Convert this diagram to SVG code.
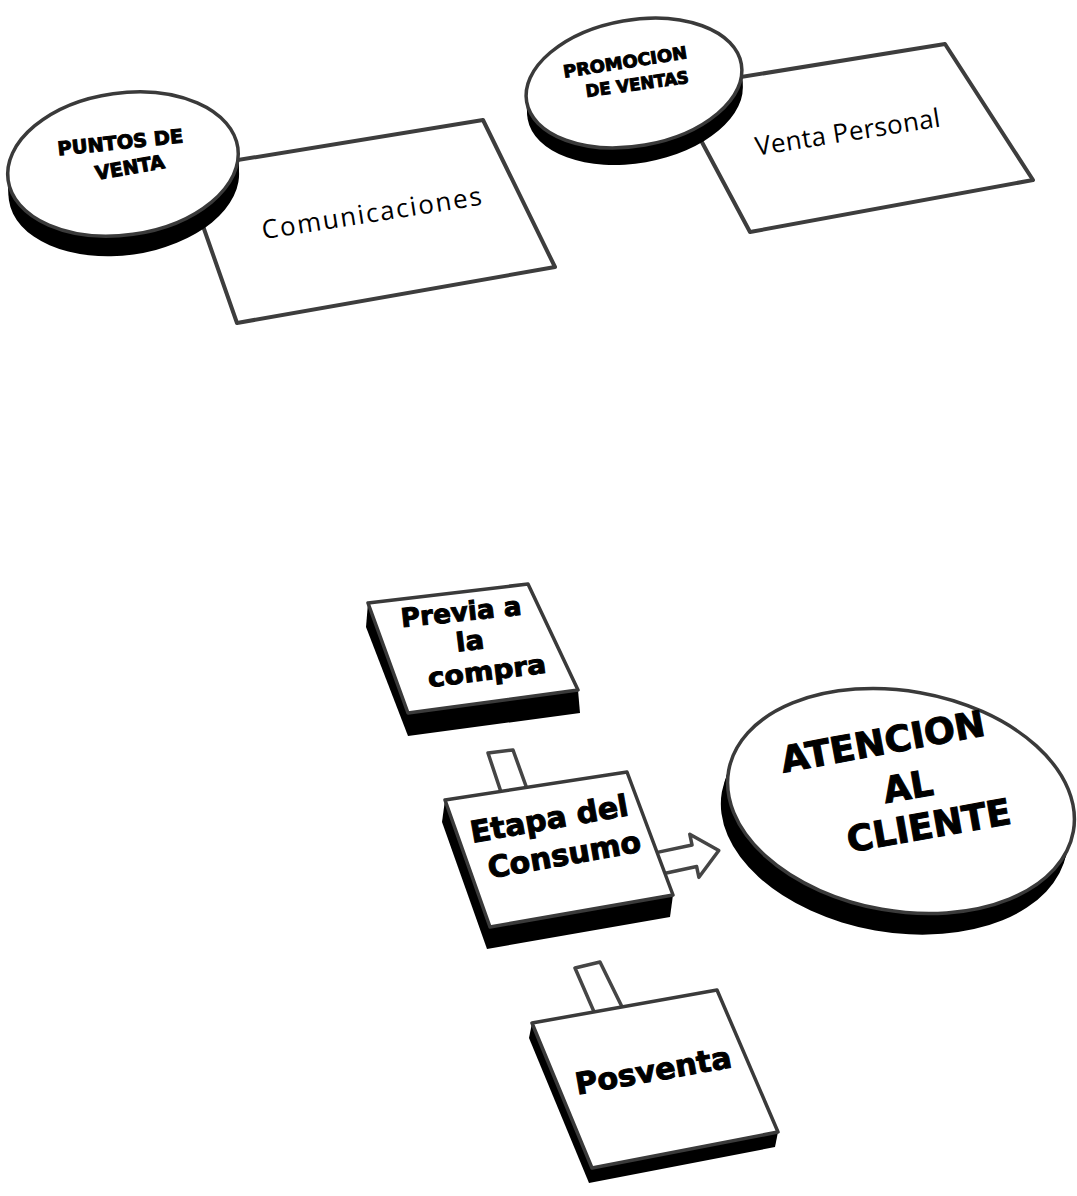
<svg xmlns="http://www.w3.org/2000/svg" width="1077" height="1196" viewBox="0 0 1077 1196">
  <defs>
    <style>
      .card { fill: #ffffff; stroke: #3d3d3d; stroke-width: 4; stroke-linejoin: round; }
      .face { fill: #ffffff; stroke: #3a3a3a; stroke-width: 3.5; stroke-linejoin: round; }
      .side { fill: #000000; }
      .stem { fill: #ffffff; stroke: #454545; stroke-width: 3.5; stroke-linejoin: round; }
      .plain { font-family: "Open Sans", "Liberation Sans", sans-serif; font-size: 26px; fill: #000; text-anchor: middle; }
      .heavy { font-family: "DejaVu Sans", "Liberation Sans", sans-serif; font-weight: bold; fill: #000; stroke: #000; stroke-width: 1; text-anchor: middle; }
    </style>
  </defs>
  <rect width="1077" height="1196" fill="#ffffff"/>

  <!-- connectors: stems between the stage boxes and the block arrow -->
  <g id="connectors">
    <polygon class="stem" points="488,753 513,750 531,800 505,804"/>
    <polygon class="stem" points="575,968 600,962 626,1015 598,1021"/>
    <g transform="translate(665,862) rotate(-12)">
      <polygon class="stem" points="-8,-11 30,-11 30,-22 55,0 30,22 30,11 -8,11"/>
    </g>
  </g>

  <!-- Comunicaciones card -->
  <g id="comunicaciones">
    <polygon class="card" points="183,169 483,120 555,267 237,323"/>
    <text class="plain" transform="translate(373,222) rotate(-9)" textLength="222" lengthAdjust="spacing">Comunicaciones</text>
  </g>

  <!-- Puntos de venta disc -->
  <g id="puntos-de-venta">
    <g transform="translate(123,164) rotate(-8)">
      <ellipse class="side" cx="-2" cy="20" rx="116" ry="71"/>
      <ellipse class="side" cx="-1.5" cy="15" rx="116" ry="71"/>
      <ellipse class="side" cx="-1" cy="10" rx="116" ry="71"/>
      <ellipse class="side" cx="-0.5" cy="5" rx="116" ry="71"/>
      <ellipse class="face" cx="0" cy="0" rx="116" ry="71"/>
    </g>
    <text class="heavy" font-size="19" transform="translate(121,149) rotate(-6)" textLength="126" lengthAdjust="spacingAndGlyphs">PUNTOS DE</text>
    <text class="heavy" font-size="19" transform="translate(131,174) rotate(-10)" textLength="70" lengthAdjust="spacingAndGlyphs">VENTA</text>
  </g>

  <!-- Venta Personal card -->
  <g id="venta-personal">
    <polygon class="card" points="673,88 945,44 1033,180 750,232"/>
    <text class="plain" transform="translate(849,141) rotate(-9)" textLength="187" lengthAdjust="spacing">Venta Personal</text>
  </g>

  <!-- Promocion de ventas disc -->
  <g id="promocion-de-ventas">
    <g transform="translate(634,83) rotate(-10)">
      <ellipse class="side" cx="-2" cy="17" rx="109" ry="63"/>
      <ellipse class="side" cx="-1.5" cy="12.75" rx="109" ry="63"/>
      <ellipse class="side" cx="-1" cy="8.5" rx="109" ry="63"/>
      <ellipse class="side" cx="-0.5" cy="4.25" rx="109" ry="63"/>
      <ellipse class="face" cx="0" cy="0" rx="109" ry="63"/>
    </g>
    <text class="heavy" font-size="17" transform="translate(626,68) rotate(-9)" textLength="125" lengthAdjust="spacingAndGlyphs">PROMOCION</text>
    <text class="heavy" font-size="17" transform="translate(638,90) rotate(-8)" textLength="104" lengthAdjust="spacingAndGlyphs">DE VENTAS</text>
  </g>

  <!-- Previa a la compra -->
  <g id="previa-compra">
    <polygon class="side" points="368,603 528,584 578,690 580,713 408,736 366,627"/>
    <polygon class="face" points="368,603 528,584 578,690 408,713"/>
    <text class="heavy" font-size="26" transform="translate(462,621) rotate(-6)" textLength="121" lengthAdjust="spacingAndGlyphs">Previa a</text>
    <text class="heavy" font-size="26" transform="translate(471,650) rotate(-7)" textLength="28" lengthAdjust="spacingAndGlyphs">la</text>
    <text class="heavy" font-size="26" transform="translate(488,680) rotate(-7)" textLength="119" lengthAdjust="spacingAndGlyphs">compra</text>
  </g>

  <!-- Etapa del consumo -->
  <g id="etapa-consumo">
    <polygon class="side" points="445,800 627,772 673,895 670,917 487,949 442,822"/>
    <polygon class="face" points="445,800 627,772 673,895 490,927"/>
    <text class="heavy" font-size="30" transform="translate(551,829) rotate(-10)" textLength="160" lengthAdjust="spacingAndGlyphs">Etapa del</text>
    <text class="heavy" font-size="30" transform="translate(566,865) rotate(-10)" textLength="155" lengthAdjust="spacingAndGlyphs">Consumo</text>
  </g>

  <!-- Atencion al cliente disc -->
  <g id="atencion-cliente">
    <g transform="translate(901,801) rotate(10)">
      <ellipse class="side" cx="-3" cy="22" rx="175" ry="110"/>
      <ellipse class="side" cx="-2" cy="15" rx="175" ry="110"/>
      <ellipse class="side" cx="-1" cy="7" rx="175" ry="110"/>
      <ellipse class="face" cx="0" cy="0" rx="175" ry="110"/>
    </g>
    <text class="heavy" font-size="36" transform="translate(885,754) rotate(-10.5)" textLength="207" lengthAdjust="spacingAndGlyphs">ATENCION</text>
    <text class="heavy" font-size="36" transform="translate(910,799) rotate(-10)" textLength="50" lengthAdjust="spacingAndGlyphs">AL</text>
    <text class="heavy" font-size="36" transform="translate(931,838) rotate(-10)" textLength="166" lengthAdjust="spacingAndGlyphs">CLIENTE</text>
  </g>

  <!-- Posventa -->
  <g id="posventa">
    <polygon class="side" points="532,1023 717,990 778,1132 775,1147 589,1183 529,1038"/>
    <polygon class="face" points="532,1023 717,990 778,1132 592,1168"/>
    <text class="heavy" font-size="30" transform="translate(655,1081) rotate(-10)" textLength="158" lengthAdjust="spacingAndGlyphs">Posventa</text>
  </g>
</svg>
